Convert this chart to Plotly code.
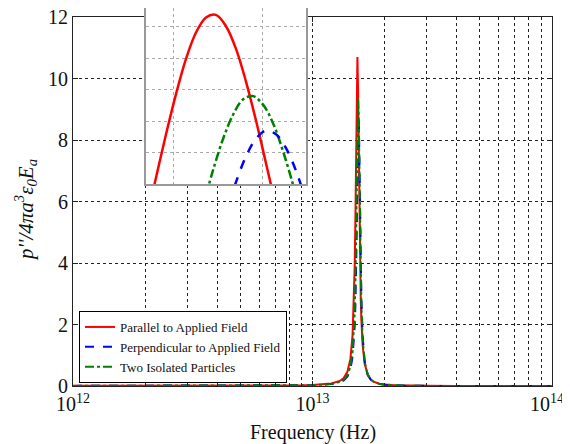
import plotly.graph_objects as go

# ---------------- data ----------------
freq_thz = [1, 2, 3, 5, 7, 9, 10, 11, 12, 13, 13.5, 14, 14.4, 14.7, 14.9, 15.0, 15.1, 15.2,
            15.3, 15.4, 15.5, 15.6, 15.7, 15.8, 15.9, 16.0, 16.2, 16.5, 17, 17.5, 18, 19, 20,
            22, 25, 30, 40, 60, 100]
parallel = [0.005, 0.005, 0.006, 0.009, 0.014, 0.023, 0.033, 0.05, 0.083, 0.165, 0.26, 0.47,
            0.88, 1.66, 2.83, 3.85, 5.35, 7.41, 9.63, 10.7, 9.63, 7.41, 5.35, 3.85, 2.83, 2.14,
            1.32, 0.74, 0.36, 0.21, 0.14, 0.074, 0.045, 0.022, 0.010, 0.0045, 0.002, 0.001, 0.0]
perpendicular = [0.004, 0.0044, 0.005, 0.0073, 0.011, 0.018, 0.026, 0.038, 0.062, 0.119, 0.183,
                 0.314, 0.55, 0.95, 1.49, 1.94, 2.59, 3.56, 4.95, 6.78, 8.44, 8.74, 7.38, 5.50,
                 3.95, 2.86, 1.62, 0.83, 0.37, 0.21, 0.132, 0.067, 0.040, 0.019, 0.009, 0.0037,
                 0.0015, 0.0004, 0.0]
isolated = [0.004, 0.0046, 0.0054, 0.0077, 0.012, 0.020, 0.028, 0.042, 0.069, 0.132, 0.204,
            0.355, 0.635, 1.12, 1.81, 2.38, 3.23, 4.47, 6.21, 8.2, 9.38, 8.70, 6.81, 4.94, 3.55,
            2.60, 1.51, 0.80, 0.37, 0.21, 0.135, 0.069, 0.042, 0.020, 0.0094, 0.004, 0.0016,
            0.0004, 0.0]

# inset (zoom on the peaks)
inset_par_f = [15.20, 15.23, 15.26, 15.29, 15.32, 15.35, 15.38, 15.41, 15.44, 15.47, 15.50, 15.53, 15.56, 15.59]
inset_par_v = [7.41, 8.10, 8.79, 9.43, 9.99, 10.41, 10.65, 10.69, 10.51, 10.15, 9.63, 9.01, 8.33, 7.64]
inset_iso_f = [15.38, 15.40, 15.43, 15.46, 15.49, 15.52, 15.55, 15.58, 15.61, 15.64, 15.66]
inset_iso_v = [7.82, 8.20, 8.70, 9.09, 9.34, 9.40, 9.27, 8.98, 8.54, 8.01, 7.62]
inset_per_f = [15.45, 15.47, 15.50, 15.53, 15.56, 15.59, 15.62, 15.65, 15.68]
inset_per_v = [7.70, 8.03, 8.44, 8.72, 8.85, 8.79, 8.57, 8.21, 7.73]

x_tick_vals = [1e12, 1e13, 1e14]
x_tick_text = ["10<sup>12</sup>", "10<sup>13</sup>", "10<sup>14</sup>&nbsp;&nbsp;"]
x_minor_vals = [m * 10 ** e for e in (12, 13) for m in range(2, 10)]
legend_names = ["Parallel to Applied Field", "Perpendicular to Applied Field", "Two Isolated Particles"]

freq_hz = [f * 1e12 for f in freq_thz]

SERIF = "Liberation Serif"
fig = go.Figure()

fig.add_trace(go.Scatter(x=freq_hz, y=parallel, name=legend_names[0], mode="lines",
                         line=dict(color="#ff0000", width=2)))
fig.add_trace(go.Scatter(x=freq_hz, y=perpendicular, name=legend_names[1], mode="lines",
                         line=dict(color="#0000ff", width=2, dash="dash")))
fig.add_trace(go.Scatter(x=freq_hz, y=isolated, name=legend_names[2], mode="lines",
                         line=dict(color="#008000", width=2, dash="dashdot")))

fig.add_trace(go.Scatter(x=inset_par_f, y=inset_par_v, mode="lines", showlegend=False,
                         line=dict(color="#ff0000", width=2.5, shape="spline"),
                         xaxis="x2", yaxis="y2"))
fig.add_trace(go.Scatter(x=inset_iso_f, y=inset_iso_v, mode="lines", showlegend=False,
                         line=dict(color="#008000", width=2.5, dash="dashdot", shape="spline"),
                         xaxis="x2", yaxis="y2"))
fig.add_trace(go.Scatter(x=inset_per_f, y=inset_per_v, mode="lines", showlegend=False,
                         line=dict(color="#0000ff", width=2.5, dash="dash", shape="spline"),
                         xaxis="x2", yaxis="y2"))

# the page body has an 8px margin: figure coords = page coords - 8,
# figure sized so that it fits the 570x444 window exactly
FIG_W, FIG_H = 562, 436
L, T = 65, 0
PLOT_W, PLOT_H = 479, 378
R = FIG_W - L - PLOT_W
B = FIG_H - T - PLOT_H
grid_dash = "3px,3px"

fig.update_layout(
    template="none",
    width=FIG_W, height=FIG_H,
    margin=dict(l=L, r=R, t=T, b=B, autoexpand=False),
    paper_bgcolor="white", plot_bgcolor="white",
    font=dict(family=SERIF, size=20, color="#111"),
    showlegend=True,
    legend=dict(x=(71 - L) / PLOT_W, y=(PLOT_H - 375) / PLOT_H, xanchor="left", yanchor="bottom",
                bgcolor="white", bordercolor="#000", borderwidth=1,
                font=dict(family=SERIF, size=13, color="#111"),
                tracegroupgap=0, itemwidth=30),
    xaxis=dict(type="log", range=[12, 14], domain=[0, 1], anchor="y", automargin=False,
               tickvals=x_tick_vals, ticktext=x_tick_text, ticklabeloverflow="allow",
               ticks="inside", ticklen=5, tickcolor="#222",
               showline=True, linecolor="#222", linewidth=1, mirror="ticks",
               showgrid=True, gridcolor="#222", gridwidth=1, griddash=grid_dash,
               minor=dict(tickvals=x_minor_vals, ticks="inside", ticklen=3, tickcolor="#222",
                          showgrid=True, gridcolor="#222", gridwidth=1, griddash=grid_dash),
               zeroline=False, tickfont=dict(family=SERIF, size=20)),
    yaxis=dict(range=[0, 12], domain=[0, 369 / PLOT_H], anchor="x", dtick=2, tick0=0,
               automargin=False, ticklabeloverflow="allow",
               ticks="inside", ticklen=5, tickcolor="#222",
               showline=True, linecolor="#222", linewidth=1, mirror="ticks",
               showgrid=True, gridcolor="#222", gridwidth=1, griddash=grid_dash,
               zeroline=False, tickfont=dict(family=SERIF, size=20)),
    xaxis2=dict(domain=[(138 - L) / PLOT_W, (298 - L) / PLOT_W], anchor="y2", range=[15.2, 15.68],
                automargin=False,
                tickvals=[15.281, 15.548], showticklabels=False, ticks="",
                showgrid=True, gridcolor="#aaaaaa", gridwidth=1, griddash="dot",
                showline=True, linecolor="#999999", linewidth=1.5, mirror=True, zeroline=False),
    yaxis2=dict(domain=[(PLOT_H - 176) / PLOT_H, 1.0], anchor="x2", range=[8.0, 10.80],
                automargin=False,
                dtick=0.5, tick0=0, showticklabels=False, ticks="",
                showgrid=True, gridcolor="#aaaaaa", gridwidth=1, griddash="dot",
                showline=True, linecolor="#999999", linewidth=1.5, mirror=True, zeroline=False),
)

fig.add_annotation(text="<i>p''/4πa<sup>3</sup>ε<sub>0</sub>E<sub>a</sub></i>",
                   xref="paper", yref="paper", x=(17 - L) / PLOT_W, y=(PLOT_H - 202) / PLOT_H,
                   xanchor="center", yanchor="middle", textangle=-90, showarrow=False,
                   font=dict(family=SERIF, size=21, color="#111"))
fig.add_annotation(text="Frequency (Hz)", xref="paper", yref="paper",
                   x=(305 - L) / PLOT_W, y=(PLOT_H - 424) / PLOT_H,
                   xanchor="center", yanchor="middle", showarrow=False,
                   font=dict(family=SERIF, size=20, color="#111"))

fig.write_html("out.html")
